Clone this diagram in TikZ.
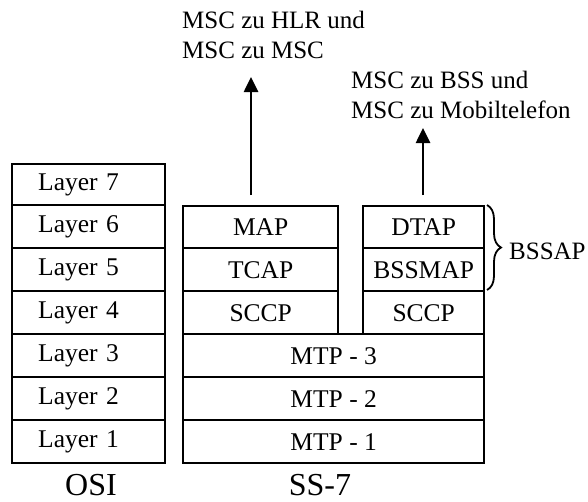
\documentclass[tikz,border=0pt]{standalone}
\usepackage{fontspec}
\setmainfont{Liberation Serif}
\usetikzlibrary{arrows.meta,decorations.pathreplacing}
\begin{document}
\begin{tikzpicture}[x=1pt,y=-1pt,
  box/.style={draw=black, line width=2.4pt, rectangle, anchor=north west, inner sep=0pt,
    font=\fontsize{25.5}{30}\selectfont},
  osibox/.style={box, minimum width=153pt, text width=101pt, inner xsep=26pt, align=left},
  lbl/.style={font=\fontsize{25}{30}\selectfont, align=left, inner sep=0pt},
  big/.style={font=\fontsize{32}{36}\selectfont, inner sep=0pt},
  arr/.style={line width=2.6pt, -{Triangle[length=15pt,width=14pt]}}]
\useasboundingbox (0,0) rectangle (588,501);
% OSI
\node[osibox, minimum height=41pt] (l7) at (11,163) {Layer 7};
\node[osibox, minimum height=43pt] (l6) at (11,204) {Layer 6};
\node[osibox, minimum height=43pt] (l5) at (11,247) {Layer 5};
\node[osibox, minimum height=43pt] (l4) at (11,290) {Layer 4};
\node[osibox, minimum height=43pt] (l3) at (11,333) {Layer 3};
\node[osibox, minimum height=43pt] (l2) at (11,376) {Layer 2};
\node[osibox, minimum height=43pt] (l1) at (11,419) {Layer 1};
% SS-7
\node[box, minimum width=155pt, minimum height=42pt] (map) at (182,205) {MAP};
\node[box, minimum width=155pt, minimum height=43pt] (tcap) at (182,247) {TCAP};
\node[box, minimum width=155pt, minimum height=43pt] (sccpa) at (182,290) {SCCP};
\node[box, minimum width=121pt, minimum height=42pt] (dtap) at (362,205) {DTAP};
\node[box, minimum width=121pt, minimum height=43pt] (bssmap) at (362,247) {BSSMAP};
\node[box, minimum width=121pt, minimum height=43pt] (sccpb) at (362,290) {SCCP};
\node[box, minimum width=301pt, minimum height=43pt] (mtp3) at (182,333) {MTP - 3};
\node[box, minimum width=301pt, minimum height=43pt] (mtp2) at (182,376) {MTP - 2};
\node[box, minimum width=301pt, minimum height=43pt] (mtp1) at (182,419) {MTP - 1};
% labels
\node[lbl, anchor=west] (hlr) at (182,35) {MSC zu HLR und\\MSC zu MSC};
\node[lbl, anchor=west] (bss) at (351,95) {MSC zu BSS und\\MSC zu Mobiltelefon};
\node[big] (osi) at (91,485) {OSI};
\node[big] (ss7) at (320,485) {SS-7};
% arrows
\coordinate (a1s) at (251,195);
\coordinate (a1e) at (251,77);
\coordinate (a2s) at (423,195);
\coordinate (a2e) at (423,128);
\draw[arr] (a1s) -- (a1e);
\draw[arr] (a2s) -- (a2e);
% brace
\coordinate (bt) at (487,205);
\coordinate (bb) at (487,290);
\draw[line width=1.8pt, decorate, decoration={brace, amplitude=14pt}] (bt) -- (bb);
\node[font=\fontsize{25}{30}\selectfont, anchor=west, inner sep=0pt] (bssap) at (509,251) {BSSAP};
\end{tikzpicture}
\end{document}
